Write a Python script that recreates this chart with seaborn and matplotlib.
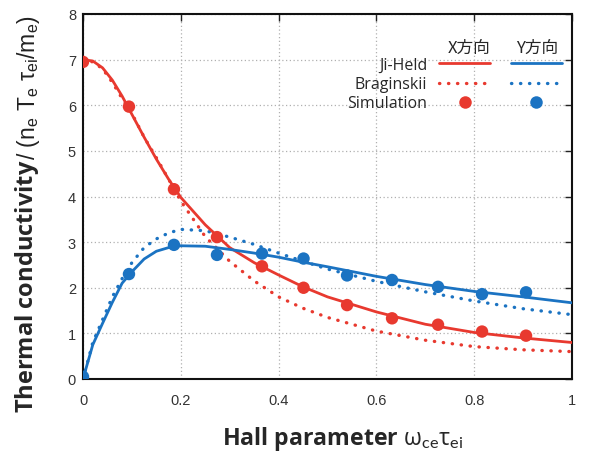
import matplotlib
matplotlib.use("Agg")
import matplotlib.pyplot as plt
from matplotlib.lines import Line2D
import numpy as np
import pandas as pd
import seaborn as sns

# ---------------- data ----------------
curve_x = [0, 0.02, 0.04, 0.06, 0.08, 0.1, 0.125, 0.15, 0.175, 0.2, 0.25, 0.3,
           0.35, 0.4, 0.45, 0.5, 0.6, 0.7, 0.8, 0.9, 1.0]
jiheld_x = [7.0, 6.97, 6.82, 6.55, 6.2, 5.8, 5.3, 4.82, 4.38, 3.98, 3.38, 2.88,
            2.55, 2.28, 2.02, 1.8, 1.47, 1.2, 1.02, 0.9, 0.8]
bragin_x = [7.0, 6.95, 6.8, 6.5, 6.15, 5.82, 5.3, 4.85, 4.38, 3.9, 3.12, 2.58,
            2.15, 1.8, 1.55, 1.35, 1.05, 0.85, 0.71, 0.64, 0.6]
jiheld_y = [0.0, 0.75, 1.22, 1.68, 2.1, 2.35, 2.63, 2.8, 2.88, 2.92, 2.91, 2.84,
            2.76, 2.67, 2.56, 2.46, 2.25, 2.07, 1.92, 1.8, 1.67]
bragin_y = [0.0, 0.8, 1.3, 1.8, 2.2, 2.55, 2.88, 3.07, 3.2, 3.28, 3.25, 3.11,
            2.95, 2.76, 2.58, 2.41, 2.14, 1.91, 1.71, 1.54, 1.41]

sim_x = [0.0, 0.094, 0.186, 0.274, 0.366, 0.451, 0.540, 0.632, 0.726, 0.816, 0.906]
sim_kx = [6.95, 5.97, 4.16, 3.11, 2.47, 2.0, 1.62, 1.33, 1.19, 1.04, 0.95]
sim_ky = [0.05, 2.30, 2.94, 2.72, 2.75, 2.64, 2.27, 2.17, 2.02, 1.86, 1.90]

x_ticks = [0, 0.2, 0.4, 0.6, 0.8, 1.0]
x_ticklabels = ["0", "0.2", "0.4", "0.6", "0.8", "1"]
y_ticks = [0, 1, 2, 3, 4, 5, 6, 7, 8]
legend_labels = ["Ji-Held", "Braginskii", "Simulation"]
headers = ["X方向", "Y方向"]

RED = "#e8392f"
BLUE = "#1b73c2"

# ---------------- style ----------------
sns.set_theme(style="white")
plt.rcParams["font.family"] = ["Open Sans", "Noto Sans CJK JP", "DejaVu Sans"]
plt.rcParams["mathtext.fontset"] = "custom"
plt.rcParams["mathtext.rm"] = "Lato"
plt.rcParams["mathtext.bf"] = "Open Sans:bold"
plt.rcParams["mathtext.it"] = "Lato:italic"
plt.rcParams["mathtext.sf"] = "Liberation Sans"

fig = plt.figure(figsize=(6.05, 4.52), dpi=100)
ax = fig.add_axes([83 / 605, 1 - 380 / 452, 489 / 605, 365 / 452])

dotted = (0, (0.1, 2.6))

sns.lineplot(x=curve_x, y=bragin_x, ax=ax, color=RED, lw=2.4, linestyle=dotted,
             dash_capstyle="round", sort=False, zorder=2)
sns.lineplot(x=curve_x, y=bragin_y, ax=ax, color=BLUE, lw=2.4, linestyle=dotted,
             dash_capstyle="round", sort=False, zorder=2)
sns.lineplot(x=curve_x, y=jiheld_x, ax=ax, color=RED, lw=2.0, sort=False, zorder=3)
sns.lineplot(x=curve_x, y=jiheld_y, ax=ax, color=BLUE, lw=2.0, sort=False, zorder=3)
sns.scatterplot(x=sim_x, y=sim_kx, ax=ax, color=RED, s=80, edgecolor="none", zorder=4)
sns.scatterplot(x=sim_x, y=sim_ky, ax=ax, color=BLUE, s=80, edgecolor="none", zorder=4)

ax.set_xlim(0, 1)
ax.set_ylim(0, 8)
ax.set_xticks(x_ticks)
ax.set_xticklabels(x_ticklabels)
ax.set_yticks(y_ticks)
for lab in ax.get_xticklabels() + ax.get_yticklabels():
    lab.set_fontfamily("Liberation Sans")
ax.tick_params(direction="in", top=True, right=True, length=5, width=1,
               labelsize=10.5, labelcolor="#333333", color="#222222")
ax.tick_params(axis="x", pad=10)
ax.tick_params(axis="y", pad=5)
ax.grid(True, linestyle=(0, (1, 2)), color="#b0b0b0", lw=0.9)
for sp in ax.spines.values():
    sp.set_color("#111111")
    sp.set_linewidth(1.5)

ax.set_xlabel(r"$\mathbf{Hall\ parameter}$ ω$_\mathrm{ce}$τ$_\mathrm{ei}$", fontsize=16.7)
ax.xaxis.set_label_coords((343 - 83) / 489, -(439 - 380) / 365)
ax.xaxis.label.set_va("center")

# y label: bold part as the axis label, unit part right after it
ax.set_ylabel(r"$\mathbf{Thermal\ conductivity}$", fontsize=17)
ax.yaxis.set_label_coords((27 - 83) / 489, (380 - 413) / 365)
ax.yaxis.label.set_va("center")
ax.yaxis.label.set_ha("left")
ax.text((28 - 83) / 489, (380 - 160) / 365,
        r"/ (n$_\mathsf{e}$ T$_\mathsf{e}$ τ$_\mathsf{ei}$/m$_\mathsf{e}$)",
        transform=ax.transAxes, rotation=90, rotation_mode="anchor",
        ha="left", va="center", fontsize=16.5, family="Liberation Sans",
        color="#222222")

# legend: X column with labels, Y column without labels
handles = [
    Line2D([], [], color=RED, lw=2.0),
    Line2D([], [], color=RED, lw=2.4, linestyle=dotted, dash_capstyle="round"),
    Line2D([], [], color=RED, marker="o", ms=9, lw=0, markeredgewidth=0),
    Line2D([], [], color=BLUE, lw=2.0),
    Line2D([], [], color=BLUE, lw=2.4, linestyle=dotted, dash_capstyle="round"),
    Line2D([], [], color=BLUE, marker="o", ms=9, lw=0, markeredgewidth=0),
]
labels = legend_labels + ["", "", ""]
leg = ax.legend(handles, labels, ncol=2, markerfirst=False, frameon=False,
                loc="upper right", bbox_to_anchor=((562 - 83) / 489, (380 - 58) / 365),
                borderpad=0, borderaxespad=0, prop={"family": "Open Sans", "size": 11.5},
                handlelength=3.2, handletextpad=0.75, columnspacing=0.55,
                labelspacing=0.2)

ax.text((469 - 83) / 489, (380 - 48) / 365, headers[0], transform=ax.transAxes,
        ha="center", va="center", fontsize=12, family=["Noto Sans CJK JP", "DejaVu Sans"])
ax.text((537 - 83) / 489, (380 - 48) / 365, headers[1], transform=ax.transAxes,
        ha="center", va="center", fontsize=12, family=["Noto Sans CJK JP", "DejaVu Sans"])

fig.savefig("out.png", dpi=100)
